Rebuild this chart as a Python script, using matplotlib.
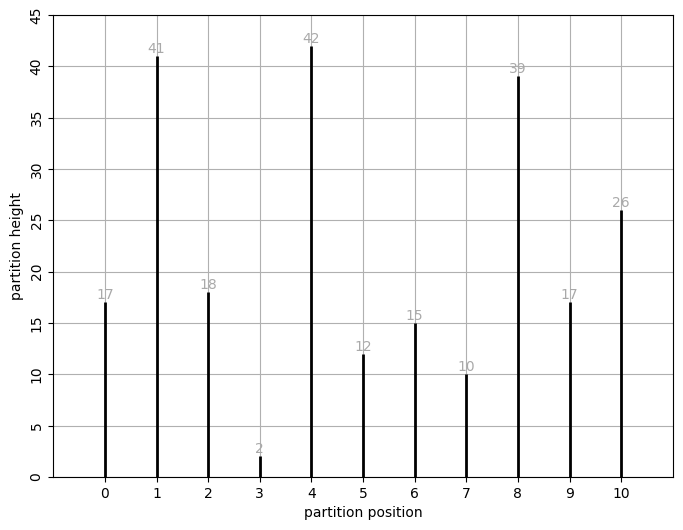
import numpy as np
import matplotlib.pyplot as plt

positions = [0, 1, 2, 3, 4, 5, 6, 7, 8, 9, 10]
heights = [17, 41, 18, 2, 42, 12, 15, 10, 39, 17, 26]

fig, ax = plt.subplots(figsize=(6.83, 5.3), dpi=100)
fig.subplots_adjust(left=0.078, right=0.985, top=0.972, bottom=0.1)

ax.vlines(positions, 0, heights, colors='black', linewidth=2, zorder=3)
for x, h in zip(positions, heights):
    ax.text(x, h, str(h), ha='center', va='bottom', color='darkgray', fontsize=10)

ax.set_xlim(-1, 11)
ax.set_ylim(0, 45)
ax.set_xticks(positions)
ax.set_yticks(np.arange(0, 46, 5))
ax.tick_params(axis='y', labelrotation=90)
for lbl in ax.get_yticklabels():
    lbl.set_verticalalignment('center')
ax.grid(True, color='#b0b0b0')
ax.set_axisbelow(True)
ax.set_xlabel('partition position')
ax.set_ylabel('partition height')

plt.savefig('out.png')
